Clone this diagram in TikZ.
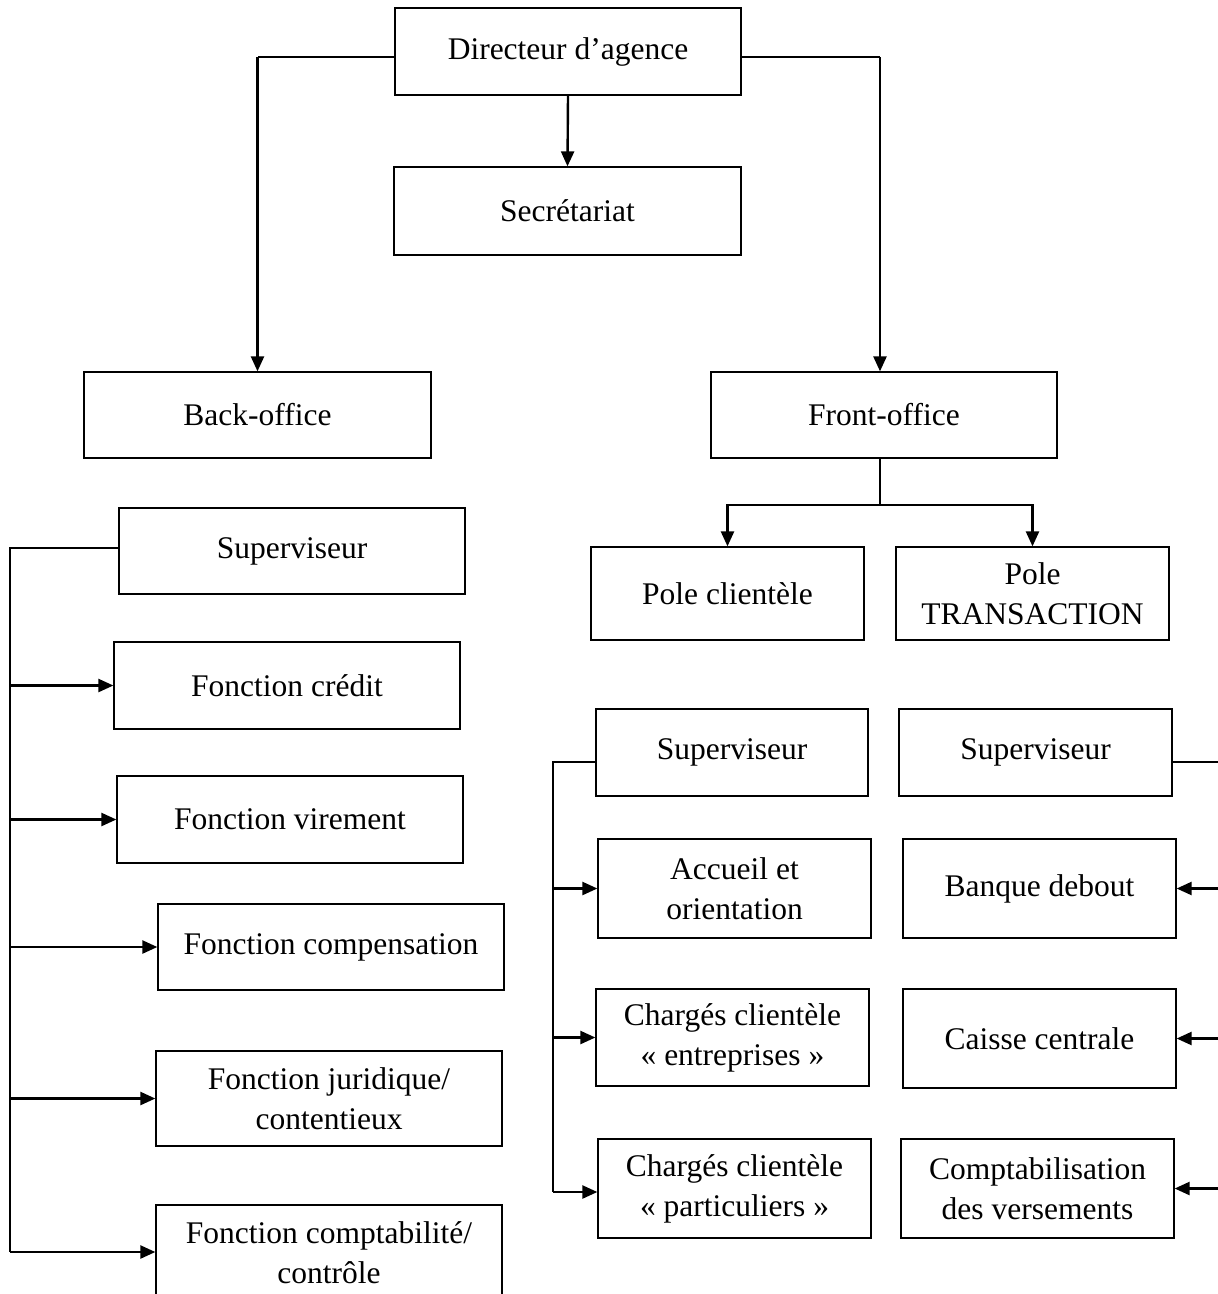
\documentclass[tikz,border=0pt]{standalone}
\usepackage{fontspec}
\setmainfont{Liberation Serif}
\usetikzlibrary{arrows.meta}
\begin{document}
\begin{tikzpicture}[x=1pt,y=-1pt,
  box/.style={draw, line width=1.3pt, align=center, inner sep=0pt,
    font=\fontsize{31.5}{40}\selectfont},
  arr/.style={line width=2.4pt, -{Triangle[length=15pt,width=13pt]}},
  thinline/.style={line width=1.3pt}]
\useasboundingbox (0,0) rectangle (1218,1294);
\clip (0,0) rectangle (1218,1294);
% boxes: center, width, height
\node[box, minimum width=346pt, minimum height=87pt] (dir) at (568,51.5) {Directeur d’agence};
\node[box, minimum width=347pt, minimum height=88pt] (sec) at (567.5,211) {Secrétariat};
\node[box, minimum width=347pt, minimum height=86pt] (back) at (257.5,415) {Back-office};
\node[box, minimum width=346pt, minimum height=86pt] (front) at (884,415) {Front-office};
\node[box, minimum width=273pt, minimum height=93pt] (pc) at (727.5,593.5) {Pole clientèle};
\node[box, minimum width=273pt, minimum height=93pt] (pt) at (1032.5,593.5) {Pole\\TRANSACTION};
% back-office column
\node[box, minimum width=346pt, minimum height=86pt] (sup1) at (292,551) {Superviseur};
\node[box, minimum width=346pt, minimum height=87pt] (fc) at (287,685.5) {Fonction crédit};
\node[box, minimum width=346pt, minimum height=87pt] (fv) at (290,819.5) {Fonction virement};
\node[box, minimum width=346pt, minimum height=86pt] (fcomp) at (331,947) {Fonction compensation};
\node[box, minimum width=346pt, minimum height=95pt] (fj) at (329,1098.5) {Fonction juridique/\\contentieux};
\node[box, minimum width=346pt, minimum height=95pt] (fct) at (329,1252.5) {Fonction comptabilité/\\contrôle};
% pole clientele column
\node[box, minimum width=272pt, minimum height=87pt] (sup2) at (732,752.5) {Superviseur};
\node[box, minimum width=273pt, minimum height=99pt] (acc) at (734.5,888.5) {Accueil et\\orientation};
\node[box, minimum width=273pt, minimum height=97pt] (ent) at (732.5,1037.5) {Chargés clientèle\\« entreprises »};
\node[box, minimum width=273pt, minimum height=99pt] (par) at (734.5,1188.5) {Chargés clientèle\\« particuliers »};
% pole transaction column
\node[box, minimum width=273pt, minimum height=87pt] (sup3) at (1035.5,752.5) {Superviseur};
\node[box, minimum width=273pt, minimum height=99pt] (bd) at (1039.5,888.5) {Banque debout};
\node[box, minimum width=273pt, minimum height=99pt] (cc) at (1039.5,1038.5) {Caisse centrale};
\node[box, minimum width=273pt, minimum height=99pt] (cv) at (1037.5,1188.5) {Comptabilisation\\des versements};
% top connectors
\draw[arr] (dir.south) -- (sec.north);
\coordinate (dl) at (257.5,57);
\coordinate (dr) at (880,57);
\draw[thinline] (dir.west |- dl) -- (dl);
\draw[arr] (dl) -- (back.north -| dl);
\draw[thinline] (dir.east |- dr) -- (dr);
\draw[arr] (dr) -- (front.north -| dr);
\coordinate (fjn) at (880,505);
\draw[thinline] (front.south -| fjn) -- (fjn);
\draw[arr] (fjn) -| (pc.north);
\draw[arr] (fjn) -| (pt.north);
% back-office bus
\coordinate (lb) at (10,548);
\coordinate (lbe) at (10,1252);
\draw[thinline] (sup1.west |- lb) -- (lb) -- (lbe);
\draw[arr] (lb |- fc.west) -- (fc.west);
\draw[arr] (lb |- fv.west) -- (fv.west);
\draw[arr] (lb |- fcomp.west) -- (fcomp.west);
\draw[arr] (lb |- fj.west) -- (fj.west);
\draw[arr] (lbe) -- (lbe -| fct.west);
% pole clientele bus
\coordinate (mb) at (553,762);
\coordinate (mbe) at (553,1192);
\draw[thinline] (sup2.west |- mb) -- (mb) -- (mbe);
\draw[arr] (mb |- acc.west) -- (acc.west);
\draw[arr] (mb |- ent.west) -- (ent.west);
\draw[arr] (mbe) -- (mbe -| par.west);
% pole transaction bus
\coordinate (rb) at (1218,762);
\draw[thinline] (sup3.east |- rb) -- (rb);
\draw[arr] (rb |- bd.east) -- (bd.east);
\draw[arr] (rb |- cc.east) -- (cc.east);
\draw[arr] (rb |- cv.east) -- (cv.east);
\end{tikzpicture}
\end{document}
